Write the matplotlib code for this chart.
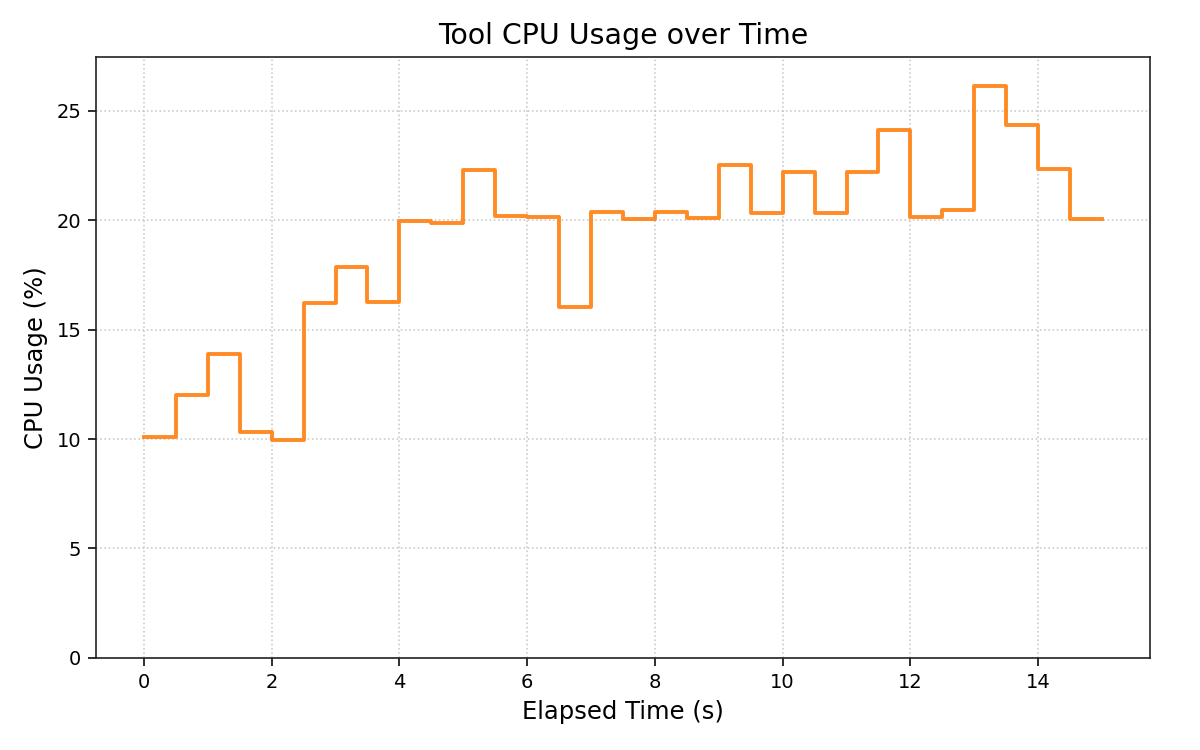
import matplotlib
matplotlib.use("Agg")
import matplotlib.pyplot as plt
import numpy as np

elapsed_s = [0, 0.5, 1, 1.5, 2, 2.5, 3, 3.5, 4, 4.5, 5, 5.5, 6, 6.5, 7, 7.5,
             8, 8.5, 9, 9.5, 10, 10.5, 11, 11.5, 12, 12.5, 13, 13.5, 14, 14.5, 15]
cpu_pct = [10.1, 12.0, 13.9, 10.3, 9.96, 16.2, 17.87, 16.27, 19.97, 19.88,
           22.3, 20.2, 20.15, 16.04, 20.38, 20.06, 20.38, 20.1, 22.53, 20.32,
           22.21, 20.32, 22.21, 24.13, 20.12, 20.47, 26.14, 24.36, 22.35, 20.06, 20.06]

plt.rcParams['xtick.labelsize'] = 14
plt.rcParams['ytick.labelsize'] = 14

fig, ax = plt.subplots(figsize=(12, 7.5), dpi=100)
fig.subplots_adjust(left=0.08, right=0.9583, bottom=0.1227, top=0.924)
ax.step(elapsed_s, cpu_pct, where='post', color='#ff7f0e', alpha=0.9, linewidth=2.8)
ax.set_ylim(0, max(cpu_pct) * 1.05)
ax.grid(True, linestyle=':', color='#bbbbbb', alpha=0.8, linewidth=1.15)
ax.set_title("Tool CPU Usage over Time", fontsize=20.4, pad=9)
ax.set_xlabel("Elapsed Time (s)", fontsize=17.5, labelpad=6)
ax.set_ylabel("CPU Usage (%)", fontsize=17.5, labelpad=6)
ax.tick_params(length=5.5, width=1.15, pad=5)
for lab in ax.get_xticklabels() + ax.get_yticklabels():
    lab.set_fontsize(14)
for s in ax.spines.values():
    s.set_color('#222222')
    s.set_linewidth(1.2)
fig.savefig("out.png")
